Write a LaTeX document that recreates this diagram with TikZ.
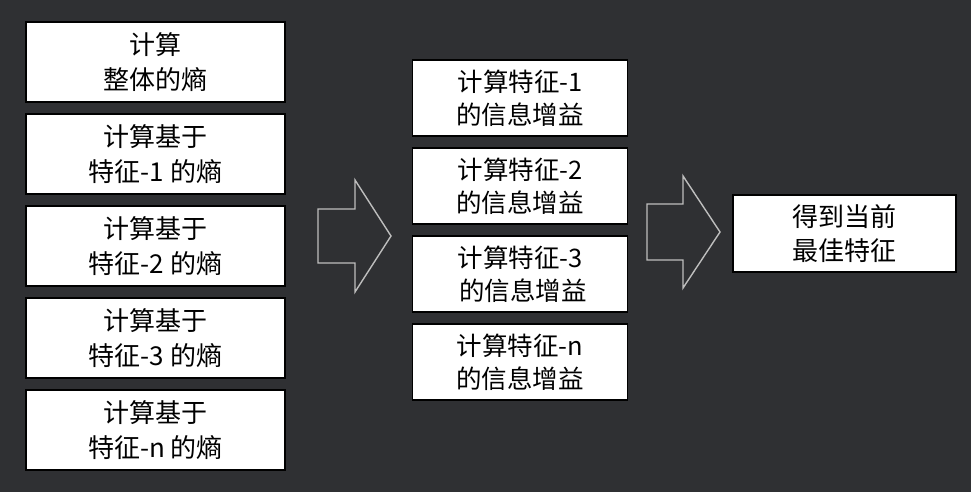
\documentclass[tikz,border=0pt]{standalone}
\usepackage{fontspec}
\newfontfamily\cjk{Noto Sans CJK SC}
\usetikzlibrary{positioning}
\definecolor{bgdark}{RGB}{47,48,51}
\definecolor{arrowgray}{RGB}{190,190,190}

\begin{document}
\begin{tikzpicture}[x=1pt, y=-1pt,
  every node/.style={font=\cjk\fontsize{26}{34}\selectfont, text=black},
  box/.style={draw=black, line width=1.2pt, fill=white, align=center, inner sep=0pt},
  leftbox/.style={box, minimum width=259pt, minimum height=80pt,
                  font=\cjk\fontsize{26}{35}\selectfont},
  midbox/.style={box, minimum width=215pt, minimum height=76pt,
                 font=\cjk\fontsize{25.5}{33}\selectfont},
  blockarrow/.style={draw=arrowgray, line width=1.4pt, line join=miter}]
  % Background
  \fill[bgdark] (0,0) rectangle (971,492);
  % Entropy (left column)
  \node[leftbox] (h0) at (155.5,62) {计算\\整体的熵};
  \node[leftbox, below=10.8pt of h0] (h1) {计算基于\\特征-1 的熵};
  \node[leftbox, below=10.8pt of h1] (h2) {计算基于\\特征-2 的熵};
  \node[leftbox, below=10.8pt of h2] (h3) {计算基于\\特征-3 的熵};
  \node[leftbox, below=10.8pt of h3] (hn) {计算基于\\特征-n 的熵};
  % Information gain (middle column)
  \node[midbox] (g1) at (520,98) {计算特征-1\\的信息增益};
  \node[midbox, below=10.8pt of g1] (g2) {计算特征-2\\的信息增益};
  \node[midbox, below=10.8pt of g2] (g3) {计算特征-3\\\hspace{6pt}的信息增益};
  \node[midbox, below=10.8pt of g3] (gn) {计算特征-n\\的信息增益};
  % Result
  \node[box, minimum width=223pt, minimum height=77pt] (best) at (844.5,233.5) {得到当前\\最佳特征};
  % Hollow block arrows
  \draw[blockarrow] (318,209) -- (355,209) -- (355,180) -- (391,236)
    -- (355,292) -- (355,263) -- (318,263) -- cycle;
  \draw[blockarrow] (647,204) -- (683,204) -- (683,176) -- (720,232)
    -- (683,288) -- (683,260) -- (647,260) -- cycle;
\end{tikzpicture}
\end{document}
